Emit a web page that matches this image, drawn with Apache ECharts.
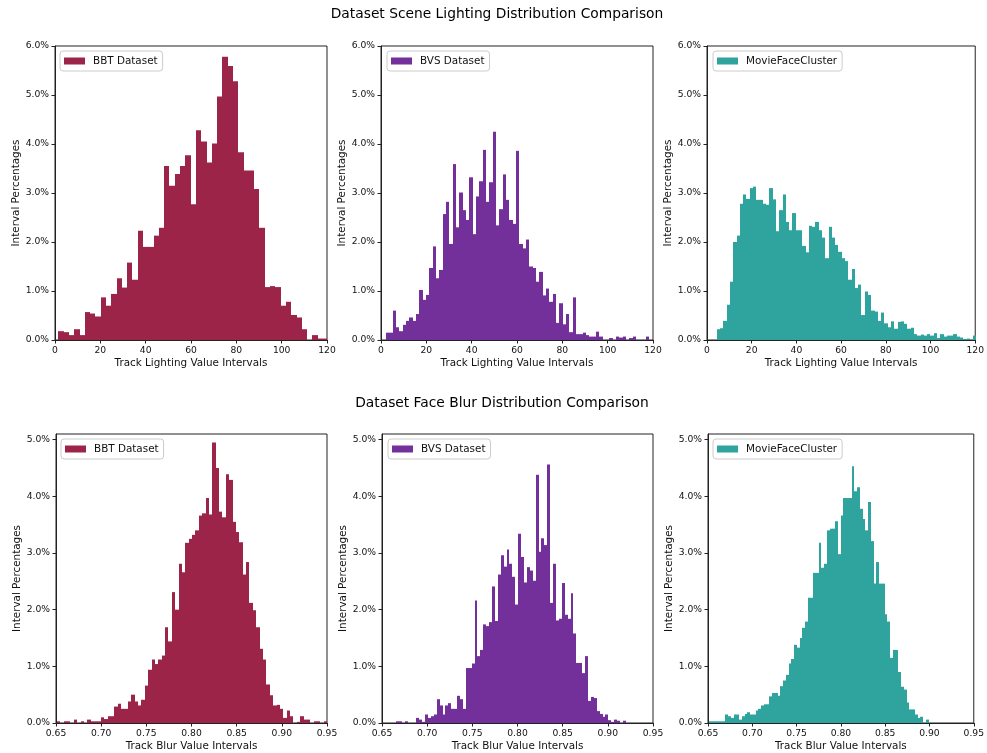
<!DOCTYPE html>
<html><head><meta charset="utf-8">
<script src="https://cdn.jsdelivr.net/npm/echarts@6/dist/echarts.min.js"></script>
<style>html,body{margin:0;padding:0;background:#fff}#c{width:987px;height:753px}</style>
</head><body><div id="c"></div>
<script>
// ---- tick labels ----
const lightingTicks = [0, 20, 40, 60, 80, 100, 120];
const blurTicks = [0.65, 0.70, 0.75, 0.80, 0.85, 0.90, 0.95];
const lightingPctTicks = [0, 1, 2, 3, 4, 5, 6];
const blurPctTicks = [0, 1, 2, 3, 4, 5];

// ---- categories ----
const datasetNames = ['BBT Dataset', 'BVS Dataset', 'MovieFaceCluster'];
const datasetColors = ['#9c2449', '#732f9a', '#2fa39e'];

// ---- lighting histograms (percent per bin) ----
const bbtLightingStart = 1.47, bbtLightingWidth = 2.335;
const bbtLighting = [0.18,0.16,0.10,0.22,0.10,0.57,0.54,0.48,0.87,0.70,
  0.94,1.26,1.07,1.58,1.23,2.23,1.90,1.90,2.13,2.29,
  3.55,3.15,3.39,3.55,3.77,2.77,4.28,4.05,3.62,4.01,
  4.97,5.78,5.59,5.28,3.83,3.46,3.46,3.08,2.29,1.08,
  1.10,1.08,0.70,0.78,0.51,0.46,0.22,0.00,0.10,0.03,0.03];

const bvsLightingStart = 2.2, bvsLightingWidth = 1.47;
const bvsLighting = [0.15,0.15,0.60,0.26,0.18,0.31,0.39,0.46,0.39,0.53,
  1.02,0.82,0.92,1.47,1.91,1.26,1.43,2.57,2.82,1.96,
  3.59,2.30,3.01,2.65,2.45,3.32,2.16,2.93,3.24,3.88,
  2.82,3.22,4.25,2.34,2.67,3.38,2.86,2.45,2.37,3.86,
  1.96,1.87,2.05,1.50,1.47,1.19,1.39,0.91,1.05,0.78,
  0.94,0.35,0.75,0.32,0.53,0.16,0.87,0.12,0.12,0.15,
  0.10,0.07,0.07,0.17,0.07,0,0,0.04,0,0.07,
  0.05,0.07,0,0.04,0.07,0,0,0,0.07,0];

const mfcLightingStart = 4.4, mfcLightingWidth = 1.47;
const mfcLighting = [0.22,0.24,0.39,0.72,1.19,2.00,2.13,2.78,2.97,2.88,
  3.10,3.13,2.86,2.86,2.78,2.76,3.10,2.87,2.22,2.65,
  2.97,2.41,2.24,2.59,2.24,2.24,1.92,1.79,2.33,2.31,
  2.41,2.24,2.09,1.67,2.31,2.09,1.94,1.80,1.67,1.61,
  1.23,1.45,1.06,1.13,0.51,0.99,0.92,0.60,0.58,0.39,
  0.56,0.34,0.26,0.38,0.23,0.37,0.38,0.33,0.23,0.25,
  0.12,0.09,0.11,0.09,0.12,0.09,0.14,0.04,0.12,0.07,
  0.09,0.09,0.12,0.07,0.05,0.02,0.03,0,0.09];

// ---- blur histograms (percent per bin) ----
const bbtBlurStart = 0.651, bbtBlurWidth = 0.00374;
const bbtBlur = [0.03,0,0.03,0.03,0,0.06,0,0.03,0,0.06,
  0.03,0.03,0.03,0.10,0.07,0.12,0.12,0.29,0.34,0.25,
  0.25,0.38,0.50,0.38,0.31,0.41,0.66,0.94,1.12,1.04,
  1.12,1.19,1.69,1.44,2.31,2.00,2.81,2.66,3.18,3.25,
  3.32,3.40,3.66,3.70,3.97,3.68,4.95,4.50,3.73,3.63,
  4.39,4.29,3.55,3.37,3.19,2.62,2.84,2.12,1.99,1.69,
  1.31,1.12,0.68,0.49,0.31,0.32,0.25,0.09,0.22,0.12,
  0,0.02,0.12,0.06,0.06,0,0.03,0.03,0,0.03];

const bvsBlurStart = 0.6655, bvsBlurWidth = 0.00322;
const bvsBlur = [0.03,0.03,0,0.03,0,0,0,0.09,0.06,0.02,
  0.15,0.09,0.12,0.15,0.42,0.31,0.15,0.31,0.35,0.25,
  0.25,0.48,0.42,0.25,0.97,0.97,1.05,2.16,1.18,1.29,
  1.74,1.71,1.78,2.41,1.80,2.62,2.96,2.76,3.06,2.81,
  2.58,2.09,3.34,2.93,2.48,2.75,2.69,2.51,4.38,3.02,
  3.26,3.14,4.56,2.12,2.81,1.81,1.84,2.47,1.91,1.84,
  2.29,1.58,1.06,1.06,0.88,1.18,0.39,0.46,0.44,0.21,
  0.16,0.11,0.15,0.05,0.02,0.06,0.04,0,0.04,0];

const mfcBlurStart = 0.651, mfcBlurWidth = 0.0031;
const mfcBlur = [0.03,0.03,0.03,0.03,0.03,0.03,0.15,0.12,0.09,0.15,
  0.15,0.06,0.12,0.16,0.19,0.15,0.15,0.22,0.25,0.31,
  0.33,0.33,0.47,0.53,0.53,0.48,0.65,0.75,0.85,1.05,
  1.13,1.38,1.33,1.50,1.68,1.79,2.21,2.21,2.65,2.65,
  3.18,2.74,2.81,3.40,3.43,3.43,3.56,2.98,3.66,3.97,
  3.97,3.97,4.53,4.09,4.16,3.78,3.60,3.40,3.90,3.21,
  2.46,2.84,2.46,2.46,1.92,1.79,1.15,1.29,1.29,0.90,
  0.64,0.59,0.36,0.24,0.24,0.15,0.09,0.11,0,0.06];

// ---- panels ----
const FONT = 'DejaVu Sans';
const TXT = '#111';
const panels = [
  {start: bbtLightingStart, width: bbtLightingWidth, values: bbtLighting, ds: 0, row: 0},
  {start: bvsLightingStart, width: bvsLightingWidth, values: bvsLighting, ds: 1, row: 0},
  {start: mfcLightingStart, width: mfcLightingWidth, values: mfcLighting, ds: 2, row: 0},
  {start: bbtBlurStart, width: bbtBlurWidth, values: bbtBlur, ds: 0, row: 1},
  {start: bvsBlurStart, width: bvsBlurWidth, values: bvsBlur, ds: 1, row: 1},
  {start: mfcBlurStart, width: mfcBlurWidth, values: mfcBlur, ds: 2, row: 1}
];
const gridLefts = [[55, 381, 707], [56, 382, 708]];
const gridTops = [46, 434];
const gridWidths = [272, 271];
const gridHeights = [294, 289];
const legendLefts = [[60, 387, 713], [61, 388, 713]];
const legendTops = [51, 439];

const grids = [], xAxes = [], yAxes = [], series = [], legends = [];
panels.forEach((p, i) => {
  const col = i % 3, r = p.row;
  grids.push({left: gridLefts[r][col], top: gridTops[r], width: gridWidths[r], height: gridHeights[r],
    show: true, borderColor: '#222', borderWidth: 1, backgroundColor: 'transparent'});
  const xTicks = r === 0 ? lightingTicks : blurTicks;
  xAxes.push({type: 'value', gridIndex: i,
    min: xTicks[0], max: xTicks[xTicks.length - 1],
    name: r === 0 ? 'Track Lighting Value Intervals' : 'Track Blur Value Intervals',
    nameLocation: 'middle', nameGap: 18,
    nameTextStyle: {fontFamily: FONT, fontSize: 10.4, color: TXT},
    axisLine: {show: true, lineStyle: {color: '#222', width: 1}},
    axisTick: {show: true, length: 3.5, lineStyle: {color: '#222'}, customValues: xTicks},
    axisLabel: {customValues: xTicks, fontFamily: FONT, fontSize: 9.2, color: TXT, margin: 6,
      formatter: v => r === 0 ? String(Math.round(v)) : v.toFixed(2)},
    splitLine: {show: false}});
  const yTicks = r === 0 ? lightingPctTicks : blurPctTicks;
  yAxes.push({type: 'value', gridIndex: i, min: 0, max: r === 0 ? 6 : 5.1,
    name: 'Interval Percentages', nameLocation: 'middle', nameGap: 33,
    nameTextStyle: {fontFamily: FONT, fontSize: 10.4, color: TXT},
    axisLine: {show: true, lineStyle: {color: '#222', width: 1}},
    axisTick: {show: true, length: 3.5, lineStyle: {color: '#222'}, customValues: yTicks},
    axisLabel: {customValues: yTicks, fontFamily: FONT, fontSize: 9.2, color: TXT, margin: 6,
      formatter: v => v.toFixed(1) + '%'},
    splitLine: {show: false}});
  const data = p.values.map((v, k) => [p.start + k * p.width, p.start + (k + 1) * p.width, v]);
  series.push({type: 'custom', name: datasetNames[p.ds], xAxisIndex: i, yAxisIndex: i,
    clip: true, itemStyle: {color: datasetColors[p.ds]},
    encode: {x: [0, 1], y: 2},
    renderItem: function (params, api) {
      const v = api.value(2);
      if (!(v > 0)) return;
      const a = api.coord([api.value(0), v]);
      const b = api.coord([api.value(1), 0]);
      const x0 = Math.round(a[0]), x1 = Math.round(b[0]);
      const c = api.visual('color');
      return {type: 'rect', shape: {x: x0, y: a[1], width: x1 - x0, height: b[1] - a[1]},
        style: {fill: c}};
    },
    data: data});
  legends.push({data: [{name: datasetNames[p.ds], icon: 'rect'}],
    left: legendLefts[r][col], top: legendTops[r], orient: 'horizontal',
    itemWidth: 21, itemHeight: 7, selectedMode: false,
    padding: [5, 5, 5, 4], borderColor: '#cccccc', borderWidth: 1, borderRadius: 3,
    backgroundColor: 'rgba(255,255,255,0.85)',
    textStyle: {fontFamily: FONT, fontSize: 10.4, color: TXT, padding: [0, 0, 0, 3]}});
});

const chart = echarts.init(document.getElementById('c'), null, {renderer: 'canvas'});
chart.setOption({
  backgroundColor: '#ffffff',
  animation: false,
  textStyle: {fontFamily: FONT},
  title: [
    {text: 'Dataset Scene Lighting Distribution Comparison', left: 497, top: 7, textAlign: 'center', padding: 0,
      textStyle: {fontFamily: FONT, fontSize: 13.8, fontWeight: 'normal', color: '#000'}},
    {text: 'Dataset Face Blur Distribution Comparison', left: 502, top: 396, textAlign: 'center', padding: 0,
      textStyle: {fontFamily: FONT, fontSize: 13.8, fontWeight: 'normal', color: '#000'}}
  ],
  grid: grids, xAxis: xAxes, yAxis: yAxes, legend: legends, series: series
});
</script></body></html>
